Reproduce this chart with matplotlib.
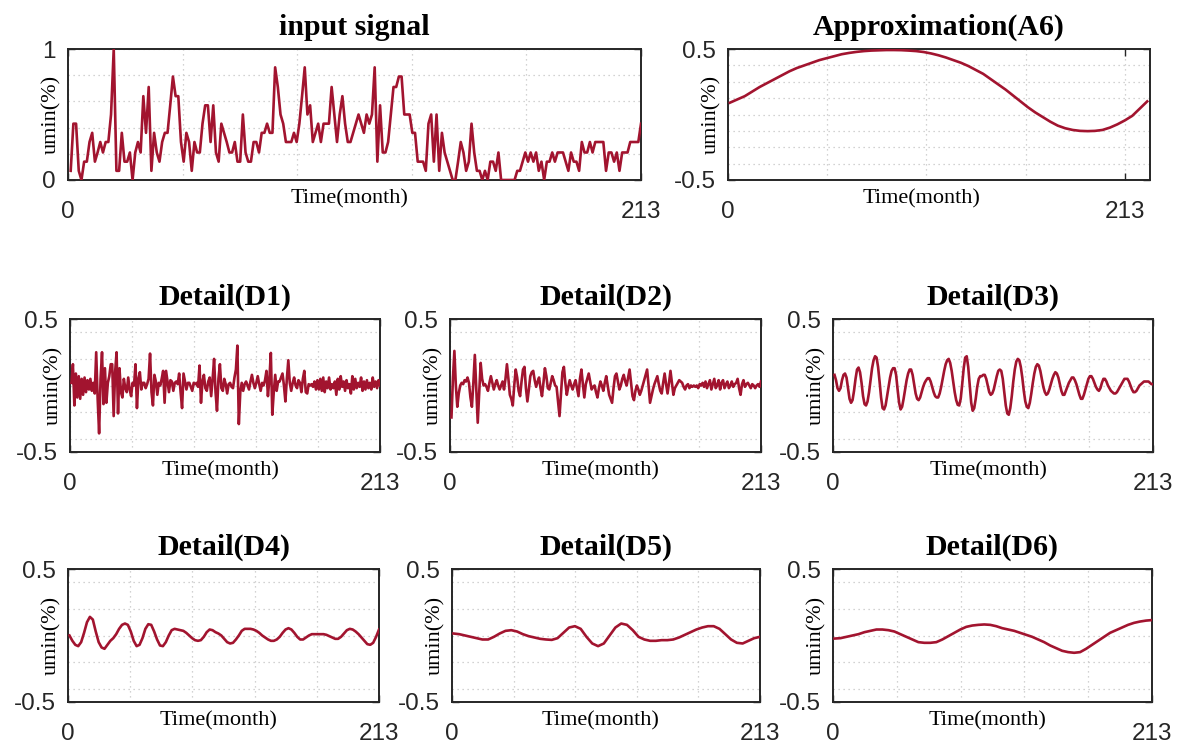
import numpy as np
import matplotlib
matplotlib.use("Agg")
import matplotlib.pyplot as plt

plt.rcParams['font.family'] = ['Liberation Sans', 'DejaVu Sans']

# ---- data (monthly, months 1..213) ----
input_signal = [
    0.07, 0.43, 0.43, 0.07, 0.0, 0.14, 0.14, 0.29, 0.36, 0.14,
    0.21, 0.29, 0.21, 0.29, 0.29, 0.5, 1.0, 0.07, 0.07, 0.36,
    0.14, 0.14, 0.21, 0.0, 0.21, 0.29, 0.21, 0.64, 0.36, 0.71,
    0.07, 0.36, 0.21, 0.14, 0.29, 0.36, 0.36, 0.57, 0.79, 0.64,
    0.64, 0.29, 0.14, 0.36, 0.29, 0.07, 0.29, 0.21, 0.21, 0.43,
    0.57, 0.57, 0.29, 0.57, 0.21, 0.14, 0.43, 0.36, 0.29, 0.21,
    0.21, 0.29, 0.14, 0.14, 0.5, 0.21, 0.14, 0.14, 0.29, 0.29,
    0.21, 0.36, 0.36, 0.43, 0.36, 0.36, 0.86, 0.71, 0.5, 0.43,
    0.29, 0.29, 0.29, 0.36, 0.29, 0.43, 0.64, 0.86, 0.5, 0.57,
    0.29, 0.36, 0.43, 0.29, 0.43, 0.43, 0.43, 0.71, 0.5, 0.29,
    0.5, 0.64, 0.43, 0.29, 0.29, 0.36, 0.43, 0.5, 0.43, 0.36,
    0.5, 0.43, 0.5, 0.86, 0.14, 0.57, 0.21, 0.21, 0.29, 0.5,
    0.71, 0.71, 0.79, 0.79, 0.5, 0.5, 0.5, 0.36, 0.36, 0.14,
    0.14, 0.14, 0.07, 0.43, 0.5, 0.14, 0.5, 0.07, 0.36, 0.21,
    0.14, 0.07, 0.0, 0.0, 0.14, 0.29, 0.21, 0.07, 0.14, 0.43,
    0.21, 0.07, 0.07, 0.0, 0.07, 0.0, 0.14, 0.14, 0.07, 0.21,
    0.0, 0.0, 0.0, 0.0, 0.0, 0.0, 0.07, 0.07, 0.14, 0.21,
    0.14, 0.21, 0.14, 0.21, 0.07, 0.14, 0.0, 0.14, 0.14, 0.21,
    0.14, 0.21, 0.21, 0.21, 0.14, 0.07, 0.21, 0.14, 0.14, 0.07,
    0.29, 0.21, 0.21, 0.29, 0.21, 0.29, 0.29, 0.29, 0.29, 0.07,
    0.21, 0.21, 0.14, 0.21, 0.07, 0.21, 0.21, 0.21, 0.29, 0.29,
    0.29, 0.29, 0.43,
]

d1 = [
    0.02, 0.16, -0.15, 0.09, -0.09, 0.07, -0.1, 0.05, -0.07, 0.06,
    -0.05, 0.04, -0.03, 0.05, -0.04, 0.02, -0.06, 0.25, -0.1, -0.36,
    0.05, 0.25, -0.14, 0.13, -0.13, 0.02, 0.07, 0.16, 0.16, -0.23,
    0.1, 0.25, -0.21, 0.13, -0.05, -0.09, 0.05, -0.02, -0.05, 0.06,
    -0.03, -0.08, 0.02, 0.0, 0.16, -0.17, 0.05, 0.1, -0.03, 0.02,
    0.02, -0.02, 0.01, 0.05, 0.24, -0.05, -0.15, 0.08, 0.03, -0.07,
    0.02, 0.0, 0.05, 0.11, -0.13, 0.11, 0.03, -0.05, 0.04, 0.03,
    -0.04, 0.02, 0.03, 0.01, 0.09, -0.05, -0.17, 0.09, 0.03, -0.03,
    0.02, 0.02, -0.01, -0.04, 0.02, 0.01, 0.02, -0.01, 0.15, -0.13,
    0.03, 0.08, -0.02, -0.04, 0.03, 0.06, -0.08, 0.05, 0.2, -0.05,
    -0.19, 0.05, 0.16, -0.02, -0.04, 0.05, 0.01, -0.06, 0.01, 0.02,
    -0.01, -0.02, 0.06, 0.12, 0.3, -0.29, -0.05, 0.02, -0.04, 0.01,
    0.03, 0.0, -0.03, 0.03, 0.08, 0.02, -0.02, 0.02, 0.07, 0.01,
    -0.04, 0.02, 0.0, 0.04, 0.11, -0.08, 0.05, 0.245, -0.22, -0.05,
    0.08, -0.04, 0.03, 0.03, 0.06, 0.09, 0.0, -0.12, 0.05, 0.19,
    0.02, -0.04, 0.02, 0.06, 0.0, -0.02, 0.04, 0.02, -0.05, 0.05,
    0.11, -0.05, -0.06, 0.01, 0.0, 0.01, -0.01, 0.03, -0.03, 0.04,
    -0.03, 0.05, -0.04, 0.06, -0.05, 0.03, -0.02, 0.06, -0.03, 0.01,
    -0.02, 0.03, -0.07, 0.05, -0.03, 0.07, -0.01, 0.03, -0.04, 0.04,
    -0.02, 0.01, -0.06, 0.07, -0.03, 0.05, -0.02, 0.02, -0.01, 0.06,
    -0.04, 0.03, -0.03, 0.04, -0.02, 0.02, -0.03, 0.06, -0.01, 0.03,
    -0.02, 0.04, 0.0,
]

d2 = [
    -0.24, 0.05, 0.26, 0.0, -0.16, -0.06, 0.0, 0.02, 0.01, 0.04,
    0.03, 0.06, 0.02, -0.09, -0.16, 0.02, 0.23, -0.02, -0.28, -0.05,
    0.17, 0.05, 0.0, 0.01, -0.01, -0.04, 0.02, 0.07, 0.02, -0.03,
    0.01, 0.04, 0.0, -0.03, 0.0, 0.03, -0.03, 0.05, 0.16, 0.05,
    -0.07, -0.1, -0.15, 0.0, 0.12, 0.06, -0.04, -0.08, 0.03, 0.12,
    0.14, -0.02, -0.12, -0.03, 0.07, 0.1, 0.11, 0.04, -0.01, 0.03,
    0.06, -0.02, -0.08, 0.02, 0.13, 0.07, -0.02, -0.03, 0.02, 0.07,
    0.04, 0.0, -0.01, -0.12, -0.23, -0.06, 0.1, 0.14, 0.02, -0.07,
    -0.01, 0.04, 0.0, -0.03, 0.01, 0.04, -0.02, -0.08, 0.05, 0.12,
    0.01, -0.09, 0.01, 0.05, 0.09, 0.03, -0.03, -0.01, 0.0, -0.05,
    -0.09, -0.02, 0.03, 0.0, -0.04, 0.02, 0.07, 0.0, -0.07, -0.1,
    -0.13, -0.02, 0.07, 0.09, 0.03, -0.03, 0.0, 0.05, 0.08, 0.03,
    0.0, 0.06, 0.12, 0.02, -0.08, -0.11, -0.04, 0.0, -0.03, -0.07,
    -0.04, 0.0, 0.04, 0.08, 0.12, 0.0, -0.13, -0.08, -0.03, 0.01,
    0.04, 0.07, 0.01, -0.04, -0.06, 0.02, 0.09, 0.01, -0.06, 0.02,
    0.11, 0.02, -0.07, -0.02, 0.0, 0.02, 0.04, 0.03, 0.02, -0.01,
    -0.03, 0.0, 0.01, -0.02, 0.0, -0.01, 0.0, -0.01, 0.0, -0.02,
    0.01, 0.0, 0.02, -0.01, 0.03, -0.02, 0.01, 0.04, -0.03, 0.01,
    0.05, -0.02, 0.0, 0.04, -0.03, 0.02, 0.04, -0.02, 0.01, 0.03,
    -0.02, 0.0, 0.03, -0.01, 0.01, 0.02, 0.05, -0.02, -0.07, 0.01,
    0.04, -0.01, 0.01, 0.02, 0.0, -0.02, 0.01, 0.0, -0.02, 0.0,
    0.01, -0.01, 0.03,
]

d3 = [
    0.08, 0.04, -0.02, -0.04, -0.02, 0.04, 0.08, 0.09, 0.06, -0.02,
    -0.1, -0.13, -0.11, -0.04, 0.05, 0.12, 0.135, 0.1, 0.02, -0.08,
    -0.14, -0.15, -0.12, -0.05, 0.04, 0.13, 0.19, 0.22, 0.21, 0.14,
    0.03, -0.09, -0.17, -0.18, -0.15, -0.08, -0.01, 0.06, 0.11, 0.13,
    0.13, 0.08, -0.03, -0.13, -0.18, -0.16, -0.1, -0.03, 0.04, 0.09,
    0.12, 0.12, 0.08, 0.01, -0.06, -0.1, -0.11, -0.09, -0.05, -0.01,
    0.02, 0.04, 0.055, 0.055, 0.03, -0.01, -0.05, -0.08, -0.09, -0.09,
    -0.06, -0.01, 0.05, 0.11, 0.16, 0.19, 0.2, 0.17, 0.11, 0.03,
    -0.05, -0.11, -0.145, -0.15, -0.1, 0.01, 0.13, 0.21, 0.22, 0.14,
    0.0, -0.13, -0.19, -0.17, -0.1, -0.01, 0.05, 0.07, 0.07, 0.08,
    0.08, 0.05, 0.0, -0.05, -0.07, -0.06, -0.03, 0.02, 0.07, 0.11,
    0.12, 0.11, 0.05, -0.05, -0.15, -0.21, -0.22, -0.17, -0.08, 0.03,
    0.12, 0.18, 0.2, 0.19, 0.14, 0.06, -0.04, -0.12, -0.16, -0.17,
    -0.13, -0.06, 0.02, 0.09, 0.14, 0.16, 0.15, 0.11, 0.05, -0.01,
    -0.05, -0.07, -0.06, -0.03, 0.01, 0.05, 0.08, 0.1, 0.09, 0.06,
    0.01, -0.04, -0.07, -0.07, -0.04, -0.01, 0.02, 0.04, 0.06, 0.06,
    0.04, 0.01, -0.03, -0.07, -0.1, -0.1, -0.07, -0.03, 0.01, 0.05,
    0.07, 0.07, 0.05, 0.02, -0.01, -0.03, -0.04, -0.02, 0.02, 0.05,
    0.05, 0.03, 0.0, -0.02, -0.04, -0.05, -0.06, -0.06, -0.05, -0.03,
    -0.01, 0.01, 0.03, 0.05, 0.05, 0.05, 0.03, 0.0, -0.03, -0.05,
    -0.05, -0.04, -0.02, 0.0, 0.01, 0.02, 0.03, 0.03, 0.03, 0.03,
    0.02, 0.01, 0.01,
]

# D4 read every 2 months, D5 / D6 / A6 every 4 months
d4 = [
    0.0, -0.04, -0.07, -0.08, -0.05, 0.02, 0.1, 0.14, 0.12, 0.03,
    -0.05, -0.09, -0.1, -0.07, -0.04, -0.02, 0.01, 0.05, 0.08, 0.09,
    0.08, 0.03, -0.04, -0.08, -0.07, -0.02, 0.05, 0.085, 0.08, 0.03,
    -0.03, -0.075, -0.08, -0.05, 0.0, 0.04, 0.05, 0.045, 0.04, 0.035,
    0.02, 0.0, -0.02, -0.035, -0.04, -0.035, -0.01, 0.025, 0.045, 0.04,
    0.025, 0.015, 0.0, -0.025, -0.05, -0.06, -0.055, -0.03, 0.0, 0.035,
    0.05, 0.05, 0.05, 0.045, 0.035, 0.02, 0.0, -0.015, -0.03, -0.04,
    -0.04, -0.03, -0.01, 0.02, 0.045, 0.055, 0.045, 0.02, -0.01, -0.03,
    -0.03, -0.015, 0.0, 0.01, 0.01, 0.01, 0.01, 0.01, 0.005, -0.005,
    -0.015, -0.025, -0.025, -0.01, 0.015, 0.04, 0.05, 0.045, 0.03, 0.01,
    -0.015, -0.04, -0.065, -0.07, -0.055, -0.01, 0.045,
]

d5 = [
    0.015, 0.01, 0.0, -0.01, -0.02, -0.03, -0.03, -0.01, 0.015, 0.035,
    0.04, 0.03, 0.01, -0.005, -0.015, -0.025, -0.03, -0.033, -0.02, 0.02,
    0.06, 0.07, 0.05, -0.01, -0.06, -0.08, -0.06, 0.0, 0.06, 0.09,
    0.08, 0.04, -0.01, -0.03, -0.04, -0.04, -0.035, -0.035, -0.03, -0.015,
    0.005, 0.025, 0.045, 0.06, 0.07, 0.07, 0.05, 0.01, -0.03, -0.055,
    -0.06, -0.04, -0.02, -0.01,
]

d6 = [
    -0.023, -0.02, -0.01, 0.0, 0.01, 0.025, 0.035, 0.045, 0.045, 0.04,
    0.03, 0.01, -0.01, -0.03, -0.05, -0.055, -0.055, -0.05, -0.03, -0.005,
    0.02, 0.045, 0.065, 0.075, 0.08, 0.083, 0.08, 0.07, 0.055, 0.045,
    0.035, 0.02, 0.005, -0.01, -0.03, -0.05, -0.075, -0.095, -0.115, -0.125,
    -0.13, -0.125, -0.1, -0.07, -0.04, -0.01, 0.02, 0.04, 0.06, 0.08,
    0.095, 0.105, 0.112, 0.116,
]

a6 = [
    0.09, 0.115, 0.14, 0.175, 0.21, 0.24, 0.27, 0.3, 0.33, 0.355,
    0.375, 0.395, 0.415, 0.43, 0.445, 0.46, 0.47, 0.478, 0.484, 0.488,
    0.49, 0.492, 0.492, 0.491, 0.488, 0.484, 0.477, 0.466, 0.452, 0.435,
    0.415, 0.395, 0.37, 0.34, 0.31, 0.27, 0.23, 0.19, 0.145, 0.1,
    0.055, 0.015, -0.02, -0.055, -0.085, -0.105, -0.118, -0.125, -0.127, -0.125,
    -0.118, -0.1, -0.075, -0.045, -0.01, 0.045, 0.1,
]

LINE = "#a2142f"
INK = "#262626"
W, H = 1177, 744

fig = plt.figure(figsize=(W / 100, H / 100), dpi=100)


def panel(box, title, x, y, xlim, ylim, ytick_labels, xgrid, ygrid):
    l, t, r, b = box
    w, h = r - l, b - t
    ax = fig.add_axes([l / W, 1 - b / H, w / W, h / H])
    ax.plot(x, y, color=LINE, lw=1.9, zorder=3)
    ax.set_xlim(*xlim)
    ax.set_ylim(*ylim)
    ax.set_xticks([0, 213])
    ax.set_xticklabels(['0', '213'])
    ax.set_yticks(list(ylim))
    ax.set_yticklabels(ytick_labels)
    ax.set_xticks(xgrid, minor=True)
    ax.set_yticks(ygrid, minor=True)
    ax.tick_params(which='major', direction='in', length=5, width=1.0,
                   top=True, right=True, labelsize=17.5, colors=INK)
    ax.tick_params(axis='x', which='major', pad=15)
    ax.tick_params(axis='y', which='major', pad=9)
    ax.tick_params(which='minor', length=0)
    ax.grid(which='both', ls=(0, (1, 3)), color='#c4c4c4', lw=0.9)
    ax.set_axisbelow(True)
    for s in ax.spines.values():
        s.set_linewidth(1.4)
        s.set_color(INK)
    ax.set_title(title, fontsize=21.5, fontweight='bold',
                 family='Liberation Serif', pad=10)
    # x label sits centred on the 0..213 span, just under the frame
    xmid = (213 / 2) / xlim[1] - 5 / w
    ax.set_xlabel('Time(month)', fontsize=16, family='Liberation Serif')
    ax.xaxis.set_label_coords(xmid, -9 / h)
    ax.set_ylabel('umin(%)', fontsize=16, family='Liberation Serif')
    ax.yaxis.set_label_coords(-7 / w, 0.5)
    return ax


months = lambda vals, step: 1 + step * np.arange(len(vals))

g5 = np.linspace(0, 213, 6)[1:-1]
dgrid = [-0.4, -0.2, 0.0, 0.2, 0.4]
pm = ['-0.5', '0.5']

panel((68, 49, 641, 180), 'input signal', months(input_signal, 1), input_signal,
      (0, 213), (0, 1), ['0', '1'], g5, [0.2, 0.4, 0.6, 0.8])
panel((728, 49, 1150, 180), 'Approximation(A6)', months(a6, 4), a6,
      (0, 226.5), (-0.5, 0.5), pm, [53.25, 106.5, 159.75],
      [-0.375, -0.25, -0.125, 0.0, 0.125, 0.25, 0.375])

panel((70, 319, 380, 452), 'Detail(D1)', months(d1, 1), d1,
      (0, 213), (-0.5, 0.5), pm, g5, dgrid)
panel((450, 319, 761, 452), 'Detail(D2)', months(d2, 1), d2,
      (0, 213), (-0.5, 0.5), pm, g5, dgrid)
panel((833, 319, 1153, 452), 'Detail(D3)', months(d3, 1), d3,
      (0, 213), (-0.5, 0.5), pm, g5, dgrid)

panel((68, 569, 379, 702), 'Detail(D4)', months(d4, 2), d4,
      (0, 213), (-0.5, 0.5), pm, g5, dgrid)
panel((452, 569, 760, 702), 'Detail(D5)', months(d5, 4), d5,
      (0, 213), (-0.5, 0.5), pm, g5, dgrid)
panel((833, 569, 1152, 702), 'Detail(D6)', months(d6, 4), d6,
      (0, 213), (-0.5, 0.5), pm, g5, dgrid)

fig.savefig('out.png', dpi=100, facecolor='white')
